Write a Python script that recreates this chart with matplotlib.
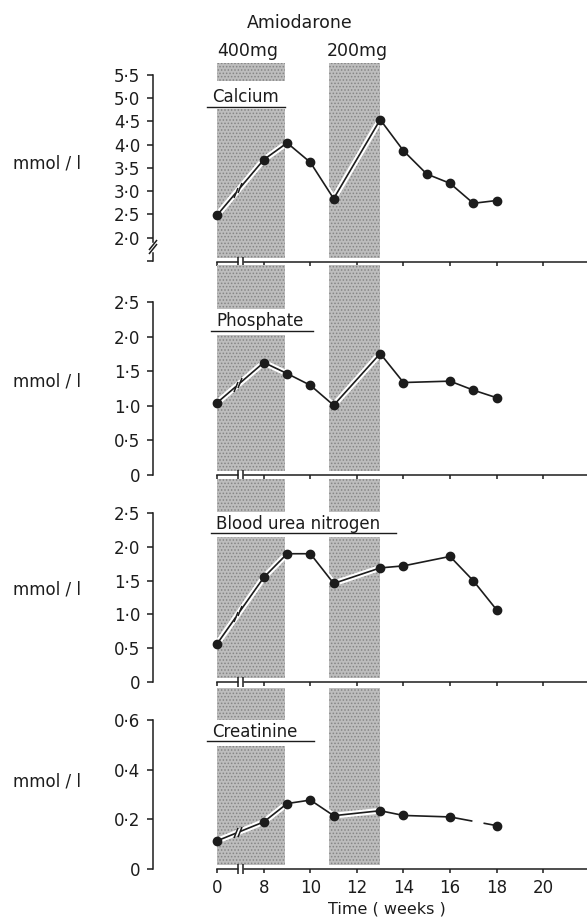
import numpy as np
import matplotlib.pyplot as plt
from matplotlib.patches import Rectangle
from matplotlib.markers import MarkerStyle
from matplotlib.transforms import Affine2D

plt.rcParams['font.family'] = ['DejaVu Sans']
plt.rcParams['hatch.linewidth'] = 0.7

# amiodarone dosing periods (weeks)
dose_labels = ['400mg', '200mg']
dose_start = [0, 10.8]
dose_end = [8.9, 13.0]

week_ticks = [0, 8, 10, 12, 14, 16, 18, 20]

ca_weeks = [0, 8, 9, 10, 11, 13, 14, 15, 16, 17, 18]
ca_vals = [2.49, 3.68, 4.04, 3.62, 2.84, 4.54, 3.87, 3.37, 3.17, 2.74, 2.80]
ca_ticks = [2.0, 2.5, 3.0, 3.5, 4.0, 4.5, 5.0, 5.5]
ca_ticklabels = ['2·0', '2·5', '3·0', '3·5', '4·0', '4·5', '5·0', '5·5']

po_weeks = [0, 8, 9, 10, 11, 13, 14, 16, 17, 18]
po_vals = [1.05, 1.63, 1.47, 1.30, 1.01, 1.76, 1.34, 1.36, 1.23, 1.12]
po_ticks = [0, 0.5, 1.0, 1.5, 2.0, 2.5]
po_ticklabels = ['0', '0·5', '1·0', '1·5', '2·0', '2·5']

bun_weeks = [0, 8, 9, 10, 11, 13, 14, 16, 17, 18]
bun_vals = [0.57, 1.55, 1.90, 1.90, 1.46, 1.69, 1.72, 1.86, 1.50, 1.07]
bun_ticks = [0, 0.5, 1.0, 1.5, 2.0, 2.5]
bun_ticklabels = ['0', '0·5', '1·0', '1·5', '2·0', '2·5']

cr_weeks = [0, 8, 9, 10, 11, 13, 14, 16, 18]
cr_vals = [0.114, 0.19, 0.264, 0.278, 0.215, 0.235, 0.216, 0.21, 0.175]
cr_ticks = [0, 0.2, 0.4, 0.6]
cr_ticklabels = ['0', '0·2', '0·4', '0·6']

W, H = 587, 919
INK = '#1c1c1c'


def fx(x):
    return x / W


def fy(y):
    return 1 - y / H


# broken time axis: weeks 0-8 squeezed into the space of 2 weeks
def fwd(w):
    w = np.asarray(w, float)
    return np.where(w < 8, 6 + w / 4, w)


def inv(p):
    p = np.asarray(p, float)
    return np.where(p < 8, (p - 6) * 4, p)


# layout in pixels: top, bottom of each panel, ylim, title box
panels = [
    dict(name='Calcium', x=ca_weeks, y=ca_vals, ticks=ca_ticks, labels=ca_ticklabels,
         top=62.7, bot=261.5, ylim=(1.488, 5.765), unit_y=163,
         title_y=97, line_y=106.7, line_x=(207, 285), box=(81, 109)),
    dict(name='Phosphate', x=po_weeks, y=po_vals, ticks=po_ticks, labels=po_ticklabels,
         top=265, bot=475, ylim=(0, 3.043), unit_y=382,
         title_y=321, line_y=330.7, line_x=(211, 313), box=(309, 335)),
    dict(name='Blood urea nitrogen', x=bun_weeks, y=bun_vals, ticks=bun_ticks, labels=bun_ticklabels,
         top=479, bot=682, ylim=(0, 3.007), unit_y=590,
         title_y=524, line_y=533, line_x=(211, 396), box=(512, 537)),
    dict(name='Creatinine', x=cr_weeks, y=cr_vals, ticks=cr_ticks, labels=cr_ticklabels,
         top=688, bot=869, ylim=(0, 0.73), unit_y=782,
         title_y=732, line_y=741, line_x=(207, 314), box=(720, 746)),
]

fig = plt.figure(figsize=(W / 100, H / 100), dpi=100)

for i, p in enumerate(panels):
    hpx = p['bot'] - p['top']
    ax = fig.add_axes([fx(152.7), fy(p['bot']), fx(592) - fx(152.7), hpx / H])
    ax.set_xscale('function', functions=(fwd, inv))
    ax.set_xlim(-11.1, 22.1)
    ax.set_ylim(*p['ylim'])
    ax.patch.set_alpha(0)

    for s0, s1 in zip(dose_start, dose_end):
        ax.axvspan(s0, s1, ymin=4 / hpx, ymax=1, facecolor='#bdbdbd',
                   edgecolor='#858585', hatch='.....', lw=0, zorder=0.5)

    # white box behind the panel title
    b0, b1 = p['box']
    ax.add_patch(Rectangle((fx(p['line_x'][0] - 3), fy(b1)), (p['line_x'][1] - p['line_x'][0] + 6) / W,
                           (b1 - b0) / H, transform=fig.transFigure, facecolor='white',
                           edgecolor='none', zorder=1.5, clip_on=False))
    fig.text(fx(p['line_x'][0] + 5), fy(p['title_y']), p['name'], fontsize=12,
             color=INK, va='center', ha='left', zorder=5)
    ax.plot([fx(p['line_x'][0]), fx(p['line_x'][1])], [fy(p['line_y'])] * 2,
            transform=fig.transFigure, color=INK, lw=1.0, clip_on=False, zorder=5)

    # data
    ax.plot(p['x'], p['y'], color='white', lw=4.2, zorder=1.8, solid_capstyle='butt')
    ax.plot(p['x'], p['y'], color=INK, lw=1.2, marker='o', ms=6, zorder=3)

    # break marks on the first segment
    bw = [3.2, 3.9]
    by = np.interp(bw, p['x'], p['y'])
    ax.plot(bw, by, color='white', lw=2.5, zorder=3.2, solid_capstyle='butt')
    ax.plot(bw, by, ls='none', marker=MarkerStyle('|', transform=Affine2D().rotate_deg(-20)),
            ms=7.5, mew=1.1, color=INK, zorder=3.3)

    if p['name'] == 'Creatinine':
        gw = [17.05, 17.35]
        ax.plot(gw, np.interp(gw, p['x'], p['y']), color='white', lw=3, zorder=3.2)

    # axes
    for side in ['top', 'right']:
        ax.spines[side].set_visible(False)
    for side in ['left', 'bottom']:
        ax.spines[side].set_linewidth(1.1)
        ax.spines[side].set_color(INK)
    ax.spines['bottom'].set_bounds(0, 22.1)

    yt = list(p['ticks'])
    yl = list(p['labels'])
    if p['name'] == 'Calcium':
        ax.spines['left'].set_bounds(1.914, 5.5)
        ytr = ax.get_yaxis_transform()
        ax.plot([0, 0], [1.488, 1.67], transform=ytr, color=INK, lw=1.1, clip_on=False)
        ax.plot([0, 0], [1.85, 1.757], transform=ytr, ls='none',
                marker=MarkerStyle('|', transform=Affine2D().rotate_deg(-37)),
                ms=9.5, mew=1.1, color=INK, clip_on=False)
        yt = [1.488] + yt
        yl = [''] + yl
    else:
        ax.spines['left'].set_bounds(0, p['ticks'][-1])
    ax.set_yticks(yt, yl)
    ax.tick_params(axis='y', direction='out', length=4.5, width=1.1, color=INK,
                   labelsize=12, labelcolor=INK, pad=4.5)

    ax.set_xticks(week_ticks)
    ax.tick_params(axis='x', direction='out', length=3, width=1.1, color=INK,
                   labelsize=12, labelcolor=INK, pad=4.5)
    if i < len(panels) - 1:
        ax.tick_params(axis='x', labelbottom=False)
    else:
        ax.set_xticklabels([str(w) for w in week_ticks])
    ax.minorticks_off()

    # break on the time axis
    xtr = ax.get_xaxis_transform()
    ax.plot([3.6, 4.45], [0, 0], transform=xtr, color='white', lw=2.5, zorder=3,
            clip_on=False, solid_capstyle='butt')
    ax.plot([3.6, 4.45], [0, 0], transform=xtr, ls='none', marker='|', ms=7,
            mew=1.1, color=INK, zorder=3.1, clip_on=False)

    fig.text(fx(13), fy(p['unit_y']), 'mmol / l', fontsize=12, color=INK,
             ha='left', va='center')

fig.text(fx(300), fy(23), 'Amiodarone', fontsize=12.5, color=INK, ha='center', va='center')
for lab, cx in zip(dose_labels, [248, 357]):
    fig.text(fx(cx), fy(51), lab, fontsize=12.5, color=INK, ha='center', va='center')
fig.text(fx(387), fy(917), 'Time ( weeks )', fontsize=11.5, color=INK, ha='center', va='bottom')

fig.savefig('out.png', dpi=100, facecolor='white')
